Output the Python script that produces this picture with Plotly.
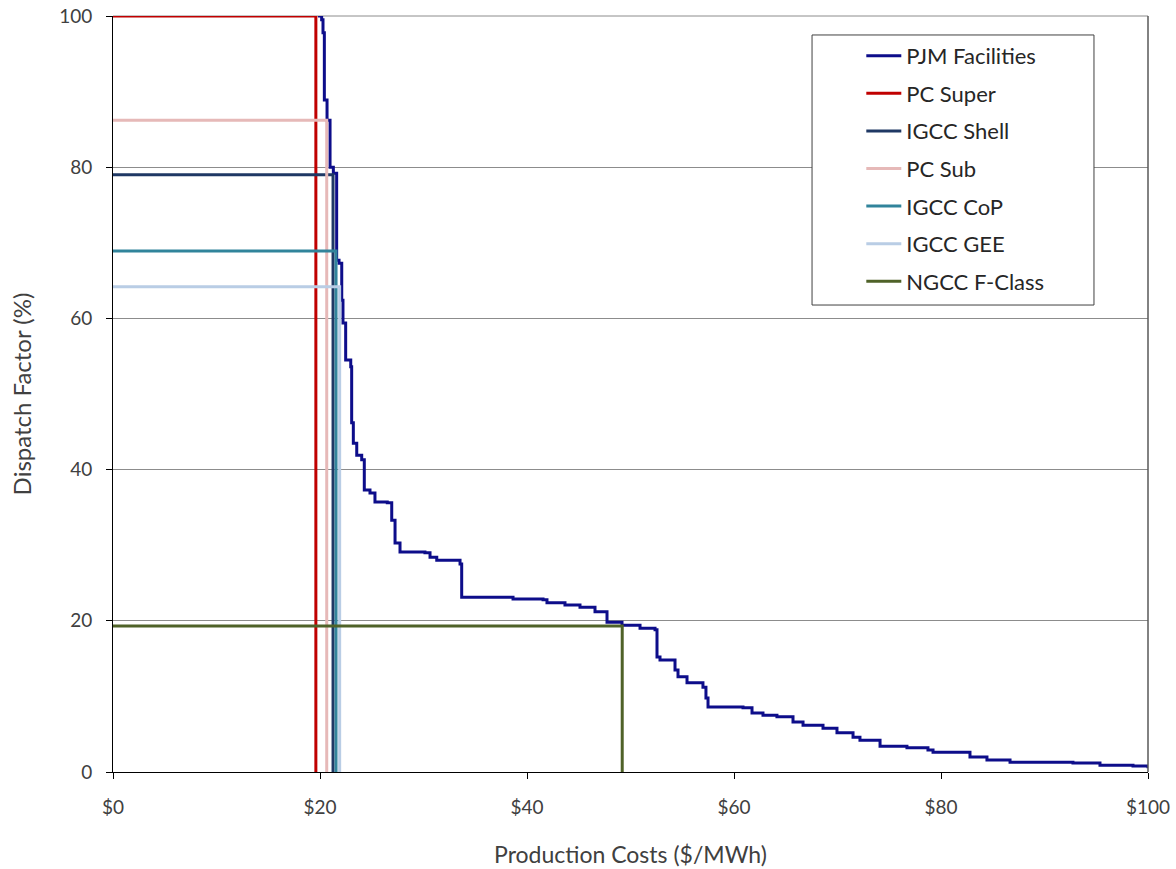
import plotly.graph_objects as go

# PJM facilities dispatch curve (production cost $/MWh vs dispatch factor %)
pjm_cost = [19.81, 20.16, 20.29, 20.42, 20.68, 20.97, 21.29, 21.61, 21.84, 22.10,
            22.22, 22.48, 22.97, 23.06, 23.22, 23.55, 24.03, 24.28, 24.83, 25.31,
            26.50, 26.93, 27.25, 27.73, 30.14, 30.63, 31.28, 33.53, 33.69, 35.75,
            38.65, 41.55, 41.93, 43.67, 45.12, 46.57, 47.73, 49.18, 50.92, 52.37,
            52.56, 52.85, 54.30, 54.59, 55.46, 57.00, 57.29, 57.49, 60.87, 61.74,
            62.80, 64.15, 65.70, 66.67, 68.60, 69.95, 71.50, 72.17, 74.11, 76.71,
            78.74, 79.23, 82.51, 82.80, 84.44, 86.67, 91.50, 92.75, 95.36, 98.55,
            100.0]
pjm_dispatch = [100.0, 99.5, 97.8, 88.9, 86.2, 80.0, 79.2, 67.7, 67.3, 62.4,
                59.4, 54.5, 53.6, 46.2, 43.5, 41.9, 41.3, 37.3, 36.9, 35.7,
                35.6, 33.3, 30.3, 29.1, 29.0, 28.4, 28.0, 27.5, 23.1, 23.1,
                22.9, 22.8, 22.4, 22.1, 21.8, 21.2, 19.8, 19.4, 19.0, 18.8,
                15.2, 14.8, 13.5, 12.6, 11.8, 11.2, 9.8, 8.6, 8.5, 7.8,
                7.5, 7.3, 6.6, 6.2, 5.8, 5.2, 4.6, 4.2, 3.4, 3.2,
                2.9, 2.6, 2.6, 2.0, 1.6, 1.3, 1.3, 1.2, 0.9, 0.8,
                0.5]

# Reference plant types: cost ($/MWh) and dispatch factor (%)
plant_names = ["PC Super", "IGCC Shell", "PC Sub", "IGCC CoP", "IGCC GEE", "NGCC F-Class"]
plant_cost = [19.6, 21.26, 20.65, 21.55, 21.9, 49.2]
plant_dispatch = [100.0, 79.0, 86.2, 68.9, 64.2, 19.3]
plant_colors = ["#C00000", "#1F3864", "#E6B9B8", "#31849B", "#B9CDE5", "#4F6228"]

x_ticks = [0, 20, 40, 60, 80, 100]
x_tick_text = ["$0", "$20", "$40", "$60", "$80", "$100"]
y_ticks = [0, 20, 40, 60, 80, 100]

FONT = "Lato"
TXT = "#404040"

fig = go.Figure()
fig.add_trace(go.Scatter(
    x=pjm_cost, y=pjm_dispatch, mode="lines", name="PJM Facilities",
    line=dict(color="#0D0D8A", width=3, shape="hv"), legendgroup="g0"))

for i, (n, c, d, col) in enumerate(zip(plant_names, plant_cost, plant_dispatch, plant_colors)):
    fig.add_trace(go.Scatter(
        x=[0, c, c], y=[d, d, 0], mode="lines", name=n,
        line=dict(color=col, width=3), legendgroup=f"g{i+1}"))

fig.update_layout(
    width=1176, height=869,
    margin=dict(l=113, r=28, t=16, b=97),
    paper_bgcolor="white", plot_bgcolor="white",
    font=dict(family=FONT, size=19, color=TXT),
    showlegend=True,
    legend=dict(x=0.723, y=0.975, xanchor="left", yanchor="top",
                bgcolor="rgba(0,0,0,0)", borderwidth=0,
                font=dict(family=FONT, size=22, color="#262626"),
                tracegroupgap=6, itemwidth=35),
    xaxis=dict(range=[0, 100], tickvals=x_ticks, ticktext=x_tick_text,
               automargin=False,
               showgrid=False, zeroline=False, showline=True, linecolor="black",
               linewidth=1, ticks="outside", ticklen=6, tickcolor="black",
               ticklabelstandoff=12,
               title=dict(text="Production Costs ($/MWh)", standoff=30,
                          font=dict(family=FONT, size=23, color=TXT))),
    yaxis=dict(range=[0, 100], tickvals=y_ticks, automargin=False,
               showgrid=True, gridcolor="#8C8C8C", gridwidth=1, zeroline=False,
               showline=True, linecolor="black", linewidth=1,
               ticks="outside", ticklen=6, tickcolor="black",
               ticklabelstandoff=10,
               title=dict(text="Dispatch Factor (%)", standoff=20,
                          font=dict(family=FONT, size=24, color=TXT))),
    shapes=[
        dict(type="line", xref="paper", yref="paper", x0=0, x1=1, y0=1, y1=1,
             line=dict(color="#8C8C8C", width=1), layer="below"),
        dict(type="line", xref="paper", yref="paper", x0=1, x1=1, y0=0, y1=1,
             line=dict(color="#595959", width=1.5)),
        dict(type="rect", xref="paper", yref="paper", x0=0.6754, x1=0.9478,
             y0=0.6177, y1=0.9749, fillcolor="white",
             line=dict(color="#404040", width=1), layer="above"),
    ],
)

fig.write_html("out.html", config={"displayModeBar": False},
               post_script="document.body.style.margin='0';")
